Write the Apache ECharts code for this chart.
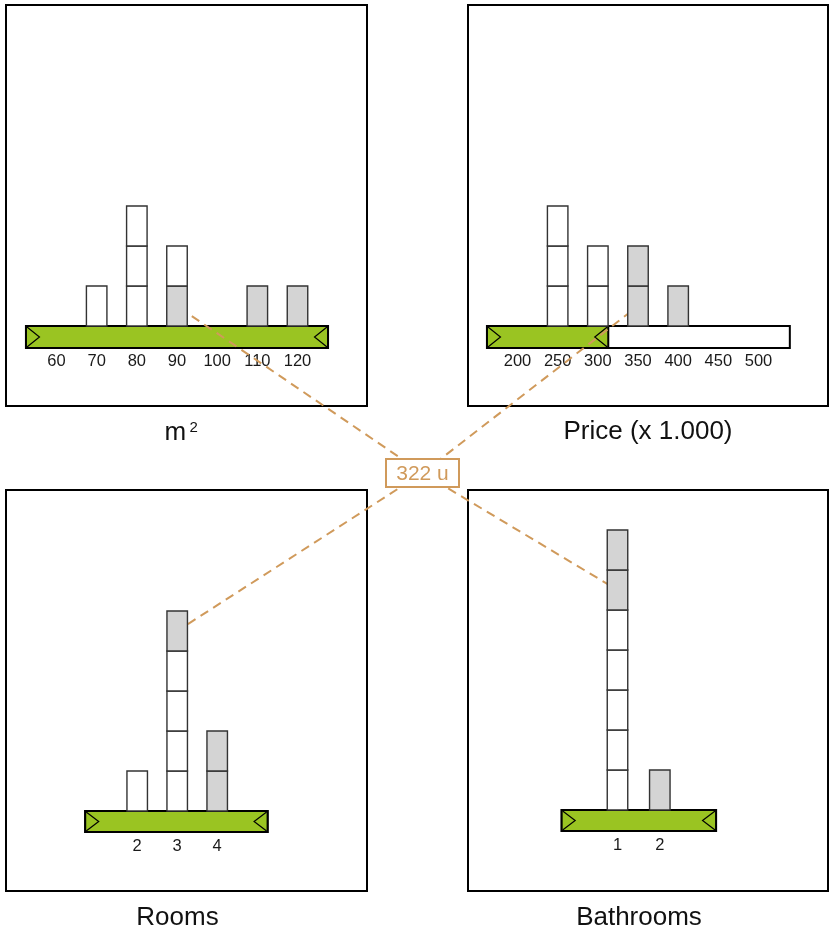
<!DOCTYPE html>
<html><head><meta charset="utf-8">
<script src="https://cdn.jsdelivr.net/npm/echarts@6/dist/echarts.min.js"></script>
<style>html,body{margin:0;padding:0;background:#fff}#c{width:829px;height:933px}</style>
</head><body><div id="c"></div>
<script>
// ---------------- data ----------------
// stacks: one list per bin, units from bottom to top; 0 = inside filter (white), 1 = filtered out (grey)
const m2Ticks = [60, 70, 80, 90, 100, 110, 120];
const m2Stacks = [[], [0], [0, 0, 0], [1, 0], [], [1], [1]];
const m2Extent = [52.4, 127.6];
const m2Selection = [52.4, 127.6];

const priceTicks = [200, 250, 300, 350, 400, 450, 500];
const priceStacks = [[], [0, 0, 0], [0, 0], [1, 1], [1], [], []];
const priceExtent = [162, 539];
const priceSelection = [162, 313];

const roomsTicks = [2, 3, 4];
const roomsStacks = [[0], [0, 0, 0, 0, 1], [1, 1]];
const roomsExtent = [0.7, 5.26];
const roomsSelection = [0.7, 5.26];

const bathTicks = [1, 2];
const bathStacks = [[0, 0, 0, 0, 0, 1, 1], [1]];
const bathExtent = [-0.32, 3.33];
const bathSelection = [-0.32, 3.33];

// hovered unit in each panel: [bin value, position in stack]
const hoveredUnit = [[90, 0], [350, 0], [3, 4], [1, 5]];
const hoverLabel = '322 u';
const titles = ['m', 'Price (x 1.000)', 'Rooms', 'Bathrooms'];
const m2Sup = '2';

// ---------------- layout ----------------
const GREEN = '#9ac422';
const TAN = '#d09a5b';
const panels = [
  { ticks: m2Ticks, stacks: m2Stacks, extent: m2Extent, sel: m2Selection,
    grid: { left: 56.5, width: 241, top: 6, height: 320 }, barH: 22 },
  { ticks: priceTicks, stacks: priceStacks, extent: priceExtent, sel: priceSelection,
    grid: { left: 517.5, width: 241, top: 6, height: 320 }, barH: 22 },
  { ticks: roomsTicks, stacks: roomsStacks, extent: roomsExtent, sel: roomsSelection,
    grid: { left: 137.2, width: 80, top: 491, height: 320 }, barH: 21 },
  { ticks: bathTicks, stacks: bathStacks, extent: bathExtent, sel: bathSelection,
    grid: { left: 617.5, width: 42.3, top: 490, height: 320 }, barH: 21 }
];

function renderSlider(params, api) {
  const h = api.value(4);
  const a = api.coord([api.value(0), 0]);
  const b = api.coord([api.value(1), 0]);
  const s0 = api.coord([api.value(2), 0])[0];
  const s1 = api.coord([api.value(3), 0])[0];
  const y = a[1];
  const chev = 12.5;
  return {
    type: 'group',
    children: [
      { type: 'rect', shape: { x: a[0], y: y, width: b[0] - a[0], height: h },
        style: { fill: '#fff', stroke: '#000', lineWidth: 2 } },
      { type: 'rect', shape: { x: s0, y: y, width: s1 - s0, height: h },
        style: { fill: GREEN, stroke: '#000', lineWidth: 2 } },
      { type: 'polyline', shape: { points: [[s0 + 1, y + 1], [s0 + 1 + chev, y + h / 2], [s0 + 1, y + h - 1]] },
        style: { fill: null, stroke: '#000', lineWidth: 1.2 } },
      { type: 'polyline', shape: { points: [[s1 - 1, y + 1], [s1 - 1 - chev, y + h / 2], [s1 - 1, y + h - 1]] },
        style: { fill: null, stroke: '#000', lineWidth: 1.2 } }
    ]
  };
}

function renderBox(params, api) {
  const c = api.coord([api.value(0), api.value(1) + 0.5]);
  const h = api.size([0, 1])[1];
  const w = 20.5;
  return {
    type: 'rect',
    shape: { x: c[0] - w / 2, y: c[1] - h / 2, width: w, height: h },
    style: { fill: api.value(2) ? '#d4d4d4' : '#ffffff', stroke: '#333', lineWidth: 1.4 }
  };
}

const grids = [], xAxes = [], yAxes = [], series = [];
panels.forEach((p, i) => {
  grids.push(Object.assign({ containLabel: false }, p.grid));
  const step = p.ticks[1] - p.ticks[0];
  xAxes.push({
    type: 'value', gridIndex: i, min: p.ticks[0], max: p.ticks[p.ticks.length - 1], interval: step,
    axisLine: { show: false }, axisTick: { show: false }, splitLine: { show: false },
    axisLabel: { show: true, interval: 0, margin: 26.5, fontSize: 16.5, color: '#1a1a1a',
      fontFamily: 'Liberation Sans, Arial, sans-serif', showMinLabel: true, showMaxLabel: true, hideOverlap: false }
  });
  yAxes.push({ type: 'value', gridIndex: i, min: 0, max: 8, show: false });
  series.push({
    type: 'custom', xAxisIndex: i, yAxisIndex: i, z: 2, clip: false, silent: true,
    renderItem: renderSlider,
    data: [[p.extent[0], p.extent[1], p.sel[0], p.sel[1], p.barH]]
  });
  const units = [];
  p.ticks.forEach((t, k) => {
    p.stacks[k].forEach((state, j) => units.push([t, j, state]));
  });
  series.push({
    type: 'custom', xAxisIndex: i, yAxisIndex: i, z: 6, clip: false, silent: true,
    renderItem: renderBox, data: units
  });
});

const chart = echarts.init(document.getElementById('c'), null, { renderer: 'canvas' });
chart.setOption({
  animation: false,
  backgroundColor: '#ffffff',
  grid: grids, xAxis: xAxes, yAxis: yAxes, series: series
});

// ---------------- decorations & hover links ----------------
const frames = [[6, 5, 361, 401], [468, 5, 360, 401], [6, 490, 361, 401], [468, 490, 360, 401]];
const labelBox = { x: 386, y: 459, w: 73, h: 28 };
const labelCenter = [labelBox.x + labelBox.w / 2, labelBox.y + labelBox.h / 2];
const font = 'Liberation Sans, Arial, sans-serif';
const graphic = [];
frames.forEach((f, i) => graphic.push({
  type: 'rect', id: 'frame' + i, z: 0, silent: true,
  shape: { x: f[0], y: f[1], width: f[2], height: f[3] },
  style: { fill: null, stroke: '#000', lineWidth: 2 }
}));
hoveredUnit.forEach((u, i) => {
  const p = chart.convertToPixel({ gridIndex: i }, [u[0], u[1] + 0.5]);
  graphic.push({
    type: 'line', id: 'link' + i, z: 4, silent: true,
    shape: { x1: labelCenter[0], y1: labelCenter[1], x2: p[0], y2: p[1] },
    style: { stroke: TAN, lineWidth: 2, lineDash: [9, 6] }
  });
});
graphic.push({
  type: 'rect', id: 'labelbox', z: 10, silent: true,
  shape: { x: labelBox.x, y: labelBox.y, width: labelBox.w, height: labelBox.h },
  style: { fill: '#fff', stroke: TAN, lineWidth: 2 }
});
graphic.push({
  type: 'text', id: 'labeltext', z: 11, silent: true, x: labelCenter[0], y: labelCenter[1] + 1,
  style: { text: hoverLabel, fill: TAN, font: '21px ' + font, textAlign: 'center', textVerticalAlign: 'middle' }
});
const titlePos = [[164.5, 433, 'left'], [648, 432, 'center'], [177.5, 917.5, 'center'], [639, 917.5, 'center']];
titles.forEach((t, i) => graphic.push({
  type: 'text', id: 'title' + i, z: 5, silent: true, x: titlePos[i][0], y: titlePos[i][1],
  style: { text: t, fill: '#111', font: '26px ' + font, textAlign: titlePos[i][2], textVerticalAlign: 'middle' }
}));
graphic.push({
  type: 'text', id: 'titleSup', z: 5, silent: true, x: 189.5, y: 428,
  style: { text: m2Sup, fill: '#111', font: '15px ' + font, textAlign: 'left', textVerticalAlign: 'middle' }
});
chart.setOption({ graphic: graphic });
</script></body></html>
